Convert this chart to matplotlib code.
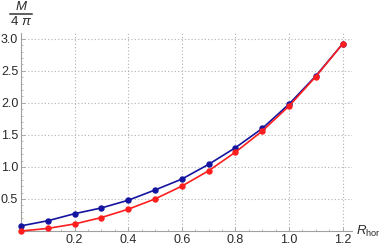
import matplotlib
matplotlib.use("Agg")
import matplotlib.pyplot as plt
from matplotlib.lines import Line2D
from matplotlib.ticker import MultipleLocator, FixedLocator

plt.rcParams['font.family'] = ['Liberation Sans', 'DejaVu Sans']
plt.rcParams['mathtext.fontset'] = 'custom'
plt.rcParams['mathtext.rm'] = 'Liberation Sans'
plt.rcParams['mathtext.it'] = 'Liberation Sans:italic'

r_hor = [0.0, 0.1, 0.2, 0.3, 0.4, 0.5, 0.6, 0.7, 0.8, 0.9, 1.0, 1.1, 1.2]
mass_blue = [0.08, 0.16, 0.27, 0.36, 0.48, 0.64, 0.81, 1.04, 1.30, 1.60, 1.98, 2.42, 2.92]
mass_red = [0.00, 0.04, 0.11, 0.21, 0.34, 0.50, 0.70, 0.94, 1.23, 1.56, 1.95, 2.41, 2.92]
xticks = [0.2, 0.4, 0.6, 0.8, 1.0, 1.2]
xtick_labels = ["0.2", "0.4", "0.6", "0.8", "1.0", "1.2"]
yticks = [0.5, 1.0, 1.5, 2.0, 2.5, 3.0]
ytick_labels = ["0.5", "1.0", "1.5", "2.0", "2.5", "3.0"]

W, H = 381, 249
fig = plt.figure(figsize=(W / 100, H / 100), dpi=100)
left, right, bottom, top = 21, 352, 231, 33
ax = fig.add_axes([left / W, (H - bottom) / H, (right - left) / W, (bottom - top) / H])
ax.set_xlim(0, 1.235)
ax.set_ylim(0, 3.09)

gray = '#a0a0a0'
for s in ['top', 'right']:
    ax.spines[s].set_visible(False)
for s in ['left', 'bottom']:
    ax.spines[s].set_color(gray)
    ax.spines[s].set_linewidth(0.8)

ax.xaxis.set_major_locator(FixedLocator(xticks))
ax.set_xticklabels(xtick_labels)
ax.yaxis.set_major_locator(FixedLocator(yticks))
ax.set_yticklabels(ytick_labels)
ax.xaxis.set_minor_locator(MultipleLocator(0.05))
ax.yaxis.set_minor_locator(MultipleLocator(0.1))
ax.tick_params(axis='both', which='major', direction='in', length=3, width=0.6,
               color=gray, labelsize=9, labelcolor='#2a2a2a', pad=2)
ax.tick_params(axis='both', which='minor', direction='in', length=1.6, width=0.5, color=gray)

ax.grid(True, which='major', linestyle=(0, (1, 2)), color='#b0b0b0', linewidth=0.8)
ax.set_axisbelow(True)

ax.plot(r_hor, mass_blue, color='#1414a0', lw=1.2, marker='o', ms=3.6, clip_on=False, zorder=3)
ax.plot(r_hor, mass_red, color='#ff1e1e', lw=1.2, marker='o', ms=3.6, clip_on=False, zorder=4)

# y-axis label as fraction M / 4 pi
fig.text(21 / W, 1 - 6.5 / H, "M", fontsize=9.5, style='italic', ha='center', va='center', color='#2a2a2a')
fig.add_artist(Line2D([10 / W, 32 / W], [1 - 14 / H, 1 - 14 / H], color='#333333', lw=1.1,
                      transform=fig.transFigure))
fig.text(21 / W, 1 - 21.5 / H, r"4 $\mathit{\pi}$", fontsize=9.5, ha='center', va='center', color='#2a2a2a')

# x-axis label
fig.text(356 / W, 1 - 231 / H, r"$R_{\mathrm{hor}}$", fontsize=9.5, ha='left', va='center', color='#2a2a2a')

fig.savefig("out.png", dpi=100)
